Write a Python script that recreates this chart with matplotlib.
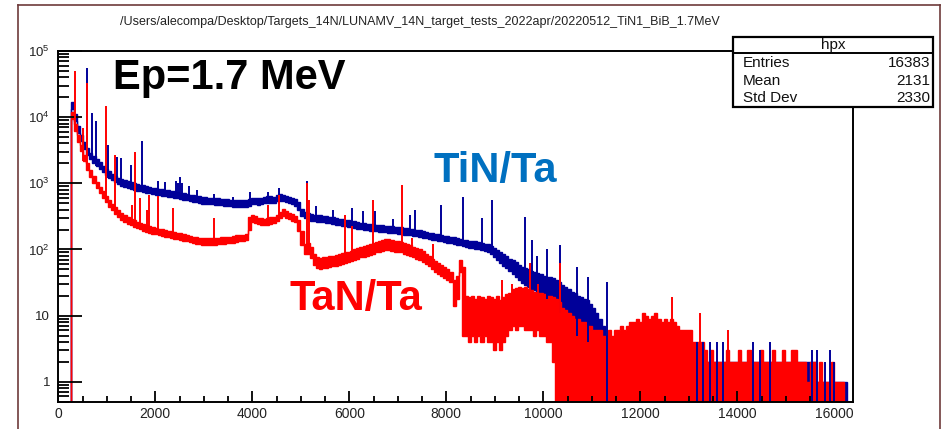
import numpy as np
import matplotlib
matplotlib.use("Agg")
import matplotlib.pyplot as plt
from matplotlib.patches import Rectangle
from matplotlib.lines import Line2D
from matplotlib.ticker import FixedLocator, FuncFormatter, LogLocator, MultipleLocator, NullFormatter

plt.rcParams['font.family'] = ['Liberation Sans', 'DejaVu Sans']
plt.rcParams['mathtext.fontset'] = 'custom'
plt.rcParams['mathtext.rm'] = 'Liberation Sans'
plt.rcParams['mathtext.it'] = 'Liberation Sans:italic'
plt.rcParams['mathtext.bf'] = 'Liberation Sans:bold'

# ---- spectra: counts per 64-channel group, lower / upper edge of the noisy trace
BIN_WIDTH = 64
N_CHANNELS = 16384

tin_lo = [
    0, 0, 0, 0, 13300, 8900, 5800, 4300, 3300, 2670, 2310, 2050, 1820, 1650, 1470, 1320,
    1200, 1110, 1030, 970, 920, 880, 850, 820, 800, 775, 755, 740, 720, 705, 685, 670,
    655, 645, 635, 625, 615, 600, 590, 575, 565, 550, 535, 525, 515, 505, 495, 490,
    485, 480, 475, 470, 465, 460, 455, 450, 445, 440, 438, 440, 445, 455, 480, 485,
    470, 480, 500, 510, 505, 500, 535, 545, 535, 515, 500, 480, 455, 400, 320, 295,
    285, 270, 267, 263, 260, 256, 252, 247, 242, 238, 233, 229, 225, 221, 216, 212,
    207, 203, 199, 196, 193, 190, 188, 185, 183, 182, 180, 178, 176, 174, 172, 168,
    166, 163, 160, 158, 154, 150, 147, 143, 140, 137, 134, 132, 129, 126, 124, 121,
    117, 115, 112, 109, 107, 105, 103, 100, 97, 94, 90, 84, 76, 70, 63, 57,
    52, 47, 43, 39, 35, 31, 29, 27, 25, 24, 23, 21, 19, 18, 16, 15,
    13, 11, 10, 8, 7, 6, 6, 5, 5, 4, 4, 3, 3, 2, 2, 1,
    0, 0, 0, 0, 0, 0, 0, 0, 0, 0, 0, 0, 0, 0, 0, 0,
    0, 0, 0, 0, 0, 0, 0, 0, 0, 0, 0, 0, 0, 0, 0, 0,
    0, 0, 0, 0, 0, 0, 0, 0, 0, 0, 0, 0, 0, 0, 0, 0,
    0, 0, 0, 0, 0, 0, 0, 0, 0, 0, 0, 0, 0, 0, 0, 0,
    0, 0, 0, 0, 0, 0, 0, 0, 0, 0, 0, 0, 0, 0, 0, 0]
tin_hi = [
    0, 0, 0, 0, 16800, 11200, 7300, 5400, 4150, 3360, 2910, 2580, 2300, 2070, 1850, 1660,
    1510, 1400, 1300, 1220, 1150, 1110, 1070, 1040, 1000, 975, 950, 930, 905, 885, 860, 840,
    825, 810, 800, 785, 775, 755, 740, 725, 710, 695, 670, 660, 645, 635, 625, 620,
    610, 605, 600, 590, 585, 580, 570, 565, 560, 555, 550, 555, 560, 570, 605, 610,
    595, 605, 625, 645, 635, 625, 670, 690, 670, 650, 625, 605, 570, 530, 410, 370,
    360, 340, 336, 331, 327, 322, 317, 311, 305, 299, 293, 288, 283, 278, 272, 267,
    261, 255, 251, 246, 243, 240, 236, 233, 231, 228, 226, 224, 222, 220, 216, 212,
    208, 205, 202, 198, 194, 189, 185, 180, 176, 172, 169, 166, 162, 159, 156, 152,
    148, 144, 141, 138, 136, 134, 132, 129, 126, 123, 119, 114, 106, 98, 91, 85,
    79, 73, 69, 64, 58, 54, 52, 50, 48, 46, 44, 42, 40, 39, 38, 37,
    35, 32, 29, 27, 25, 23, 22, 20, 19, 18, 17, 15, 13, 11, 9, 7,
    5, 4, 4, 4, 3, 3, 3, 3, 3, 3, 3, 3, 3, 3, 3, 3,
    3, 3, 3, 3, 3, 3, 3, 3, 3, 3, 2, 2, 2, 2, 2, 2,
    2, 2, 2, 2, 2, 2, 2, 2, 2, 2, 2, 2, 2, 2, 2, 2,
    2, 2, 2, 2, 2, 2, 2, 2, 2, 2, 2, 2, 2, 2, 2, 2,
    2, 2, 2, 2, 1, 1, 1, 1, 1, 1, 1, 1, 1, 1, 0, 0]
tan_lo = [
    0, 0, 0, 0, 9300, 6200, 4270, 3030, 2140, 1600, 1250, 1020, 845, 710, 605, 515,
    445, 390, 347, 312, 283, 263, 245, 231, 220, 210, 201, 193, 186, 180, 174, 169,
    165, 160, 157, 153, 150, 146, 142, 139, 135, 132, 128, 125, 122, 120, 118, 117,
    117, 117, 117, 119, 121, 123, 124, 125, 127, 130, 132, 134, 138, 200, 263, 254,
    240, 236, 233, 236, 245, 249, 267, 294, 320, 303, 285, 271, 258, 190, 115, 85,
    85, 75, 58, 53, 51, 52, 53, 55, 56, 57, 59, 61, 62, 64, 66, 69,
    72, 76, 78, 81, 83, 86, 90, 93, 96, 98, 98, 96, 93, 91, 90, 86,
    83, 80, 76, 73, 69, 65, 60, 56, 50, 46, 43, 40, 37, 35, 32, 14,
    18, 45, 5, 5, 4, 5, 4, 5, 4, 5, 4, 4, 3, 4, 3, 4,
    5, 6, 7, 6, 7, 7, 6, 6, 6, 5, 6, 5, 5, 4, 4, 2,
    0, 0, 0, 0, 0, 0, 0, 0, 0, 0, 0, 0, 0, 0, 0, 0,
    0, 0, 0, 0, 0, 0, 0, 0, 0, 0, 0, 0, 0, 0, 0, 0,
    0, 0, 0, 0, 0, 0, 0, 0, 0, 0, 0, 0, 0, 0, 0, 0,
    0, 0, 0, 0, 0, 0, 0, 0, 0, 0, 0, 0, 0, 0, 0, 0,
    0, 0, 0, 0, 0, 0, 0, 0, 0, 0, 0, 0, 0, 0, 0, 0,
    0, 0, 0, 0, 0, 0, 0, 0, 0, 0, 0, 0, 0, 0, 0, 0]
tan_hi = [
    0, 0, 0, 0, 11800, 7800, 5380, 3810, 2690, 2020, 1570, 1290, 1060, 895, 760, 650,
    560, 495, 437, 392, 356, 330, 308, 291, 277, 264, 253, 243, 234, 226, 220, 213,
    207, 202, 197, 193, 188, 184, 179, 175, 170, 166, 161, 157, 153, 151, 149, 148,
    147, 147, 148, 150, 152, 155, 156, 157, 160, 164, 166, 168, 174, 314, 330, 319,
    302, 297, 293, 297, 308, 314, 336, 370, 403, 381, 358, 342, 325, 280, 190, 120,
    125, 110, 84, 77, 74, 76, 77, 79, 80, 83, 85, 88, 90, 92, 95, 100,
    104, 109, 113, 116, 120, 125, 130, 134, 139, 142, 142, 139, 134, 132, 130, 125,
    120, 115, 110, 106, 100, 94, 86, 80, 72, 67, 62, 58, 54, 50, 46, 34,
    40, 70, 55, 20, 19, 20, 18, 20, 19, 18, 20, 19, 18, 20, 17, 19,
    21, 22, 25, 26, 27, 26, 27, 25, 24, 23, 22, 22, 21, 20, 20, 19,
    18, 16, 13, 12, 11, 10, 9, 9, 8, 8, 7, 7, 6, 6, 6, 5,
    5, 6, 5, 6, 6, 7, 6, 7, 8, 8, 9, 8, 11, 10, 9, 10,
    11, 9, 8, 9, 8, 9, 8, 7, 6, 6, 6, 6, 4, 4, 4, 4,
    3, 2, 3, 2, 2, 2, 2, 3, 2, 2, 2, 3, 2, 2, 3, 2,
    2, 2, 3, 2, 2, 2, 3, 2, 2, 3, 2, 2, 3, 3, 2, 2,
    2, 1, 2, 2, 1, 2, 1, 1, 1, 2, 1, 1, 1, 0, 0, 0]

# ---- narrow gamma lines sticking out of the continuum (channel, counts)
tin_peak_ch = [600, 688, 770, 1030, 1200, 1300, 1500, 1730, 2050, 2200,
               2420, 2460, 2510, 2560, 2700, 2850, 3200, 3610, 3950, 4330,
               4560, 5120, 5310, 5670, 6050, 6290, 6530, 6910, 7250, 7355,
               7900, 8350, 8730, 8940, 9620, 9760, 9860, 10070, 10340, 10690,
               10930, 11320, 13160, 13300, 13440, 13575, 13710, 14330, 14470, 14675,
               15530, 15640, 15800, 15900, 16000]
tin_peak_counts = [55000, 11500, 8600, 3800, 2500, 2400, 1900, 4300, 1100, 1050,
                   1100, 1000, 1260, 1000, 900, 800, 700, 620, 740, 740,
                   850, 1070, 450, 400, 420, 380, 380, 290, 330, 400,
                   470, 630, 300, 560, 315, 140, 80, 100, 117, 55,
                   39, 32, 4, 4, 4, 4, 4, 4, 3, 4,
                   3, 3, 2, 3, 2]
tan_peak_ch = [344, 515, 600, 977, 1170, 1510, 1585, 1685, 1820, 1870,
               2060, 2370, 3200, 4330, 4560, 5120, 5170, 5910, 6050, 6490,
               7080, 7290, 7730, 9140, 9350, 9730, 9900, 10350, 12650, 13230,
               13815]
tan_peak_counts = [49000, 6800, 33000, 14500, 2700, 470, 3000, 600, 400, 670,
                   650, 420, 296, 470, 670, 1000, 560, 330, 230, 560,
                   950, 150, 120, 35, 30, 62, 30, 62, 19, 11,
                   6]

title = "/Users/alecompa/Desktop/Targets_14N/LUNAMV_14N_target_tests_2022apr/20220512_TiN1_BiB_1.7MeV"
stats_name = "hpx"
stats_labels = ["Entries", "Mean", "Std Dev"]
stats_values = ["16383", "2131", "2330"]

TIN_COLOR = "#000099"
TAN_COLOR = "#ff0000"
FLOOR = 0.5

W, H = 949, 429
fig = plt.figure(figsize=(W / 100, H / 100), dpi=100)
fig.patch.set_facecolor("white")


def fx(px):
    return px / W


def fy(py):
    return 1 - py / H


ax = fig.add_axes([fx(58.3), fy(401.7), fx(853) - fx(58.3), fy(51) - fy(401.7)])
ax.set_yscale("log")
ax.set_xlim(0, N_CHANNELS)
ax.set_ylim(FLOOR, 1.0e5)

edges = np.arange(0, N_CHANNELS + 1, BIN_WIDTH)


def draw_spectrum(lo, hi, pk_ch, pk_n, color):
    lo = np.asarray(lo, float)
    hi = np.asarray(hi, float)
    lo_c = np.where(lo > 0, lo, FLOOR)
    hi_c = np.where(hi > 0, hi, FLOOR)
    ax.fill_between(edges, np.append(lo_c, lo_c[-1]), np.append(hi_c, hi_c[-1]),
                    step="post", color=color, lw=0)
    ax.stairs(hi_c, edges, color=color, lw=1.0, baseline=None)
    ax.stairs(lo_c, edges, color=color, lw=1.0, baseline=None)
    idx = np.asarray(pk_ch) // BIN_WIDTH
    ax.vlines(pk_ch, lo_c[idx], pk_n, color=color, lw=1.4)


draw_spectrum(tin_lo, tin_hi, tin_peak_ch, tin_peak_counts, TIN_COLOR)
draw_spectrum(tan_lo, tan_hi, tan_peak_ch, tan_peak_counts, TAN_COLOR)

# axes styling in the ROOT manner
for side in ["left", "bottom", "top", "right"]:
    ax.spines[side].set_linewidth(1.4)
    ax.spines[side].set_color("black")
ax.xaxis.set_major_locator(MultipleLocator(2000))
ax.xaxis.set_minor_locator(MultipleLocator(500))
ax.yaxis.set_major_locator(FixedLocator([1, 10, 100, 1e3, 1e4, 1e5]))
ax.yaxis.set_minor_locator(LogLocator(base=10, subs=np.arange(2, 10)))
ax.yaxis.set_minor_formatter(NullFormatter())


def ylab(v, pos):
    e = int(round(np.log10(v)))
    if e == 0:
        return "1"
    if e == 1:
        return "10"
    return r"$10^{%d}$" % e


ax.yaxis.set_major_formatter(FuncFormatter(ylab))
ax.xaxis.set_major_formatter(FuncFormatter(lambda v, p: "%d" % v))
ax.tick_params(axis="x", which="major", direction="in", length=8, width=1.3,
               labelsize=10, pad=4, top=False, colors="black", labelcolor="#222222")
ax.tick_params(axis="x", which="minor", direction="in", length=4, width=1.3, top=False)
ax.tick_params(axis="y", which="major", direction="in", length=17, width=1.3,
               labelsize=9.5, pad=6, right=False, labelcolor="#222222")
ax.tick_params(axis="y", which="minor", direction="in", length=8, width=1.3, right=False)

# labels on the plot
fig.text(fx(113), fy(89.3), "Ep=1.7 MeV", fontsize=30, fontweight="bold",
         color="black", va="baseline", ha="left")
fig.text(fx(433), fy(181.7), "TiN/Ta", fontsize=30, fontweight="bold",
         color="#0070c0", va="baseline", ha="left")
fig.text(fx(290), fy(310), "TaN/Ta", fontsize=30, fontweight="bold",
         color="#ff0000", va="baseline", ha="left")

# canvas title
fig.text(fx(420), fy(22.5), title, fontsize=9, color="#222222", ha="center", va="center")

# statistics box
bx0, by0, bx1, by1 = 733.3, 36.7, 933.3, 106.7
fig.add_artist(Rectangle((fx(bx0), fy(by1)), fx(bx1) - fx(bx0), fy(by0) - fy(by1),
                         transform=fig.transFigure, facecolor="white",
                         edgecolor="black", lw=1.6, zorder=5))
fig.add_artist(Line2D([fx(bx0), fx(bx1)], [fy(52.7), fy(52.7)], transform=fig.transFigure,
                      color="black", lw=1.4, zorder=6))
fig.text(fx((bx0 + bx1) / 2), fy(44.5), stats_name, fontsize=11, ha="center",
         va="center", zorder=7, color="#111111")
for i, (lab, val) in enumerate(zip(stats_labels, stats_values)):
    yy = [63.3, 80.7, 97.7][i]
    fig.text(fx(743), fy(yy), lab, fontsize=11, ha="left", va="center", zorder=7,
             color="#111111")
    fig.text(fx(930), fy(yy), val, fontsize=11, ha="right", va="center", zorder=7,
             color="#111111")

# canvas border
border = "#6e3b3b"
fig.add_artist(Line2D([fx(17.5), fx(17.5)], [fy(429), fy(5)], transform=fig.transFigure,
                      color=border, lw=1.2))
fig.add_artist(Line2D([fx(17.5), fx(940)], [fy(5), fy(5)], transform=fig.transFigure,
                      color=border, lw=1.2))
fig.add_artist(Line2D([fx(940), fx(940)], [fy(5), fy(429)], transform=fig.transFigure,
                      color=border, lw=1.2))

fig.savefig("out.png", dpi=100)
